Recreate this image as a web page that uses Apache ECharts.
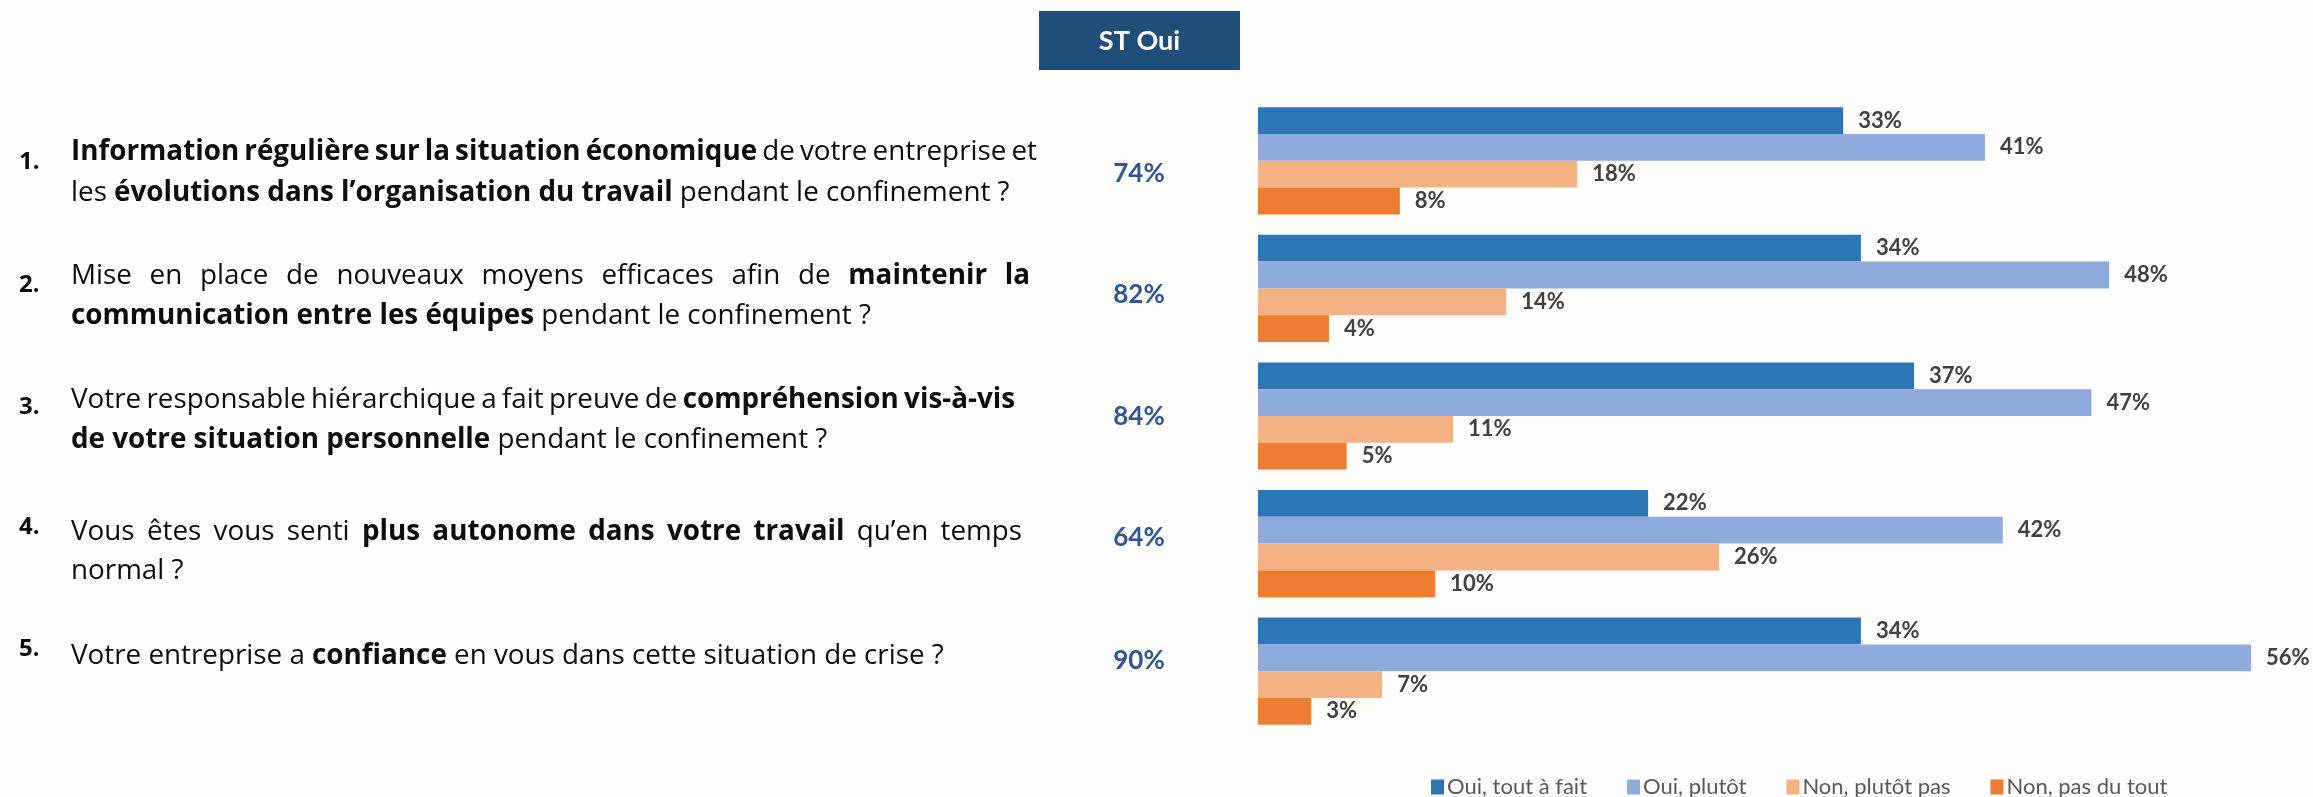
<!DOCTYPE html>
<html>
<head>
<meta charset="utf-8">
<script src="https://cdn.jsdelivr.net/npm/echarts@6/dist/echarts.min.js"></script>
<style>
html,body{margin:0;padding:0;background:#fefefd;}
#chart{width:2313px;height:797px;}
</style>
</head>
<body>
<div id="chart"></div>
<script>
// ---- DATA ----
const categories = ['1.', '2.', '3.', '4.', '5.'];
const seriesNames = ['Oui, tout à fait', 'Oui, plutôt', 'Non, plutôt pas', 'Non, pas du tout'];
const ouiToutAFait = [33, 34, 37, 22, 34];
const ouiPlutot = [41, 48, 47, 42, 56];
const nonPlutotPas = [18, 14, 11, 26, 7];
const nonPasDuTout = [8, 4, 5, 10, 3];
const stOui = ['74%', '82%', '84%', '64%', '90%'];
const headerLabel = 'ST Oui';
// question lines: [text, bold]
const question1 = [
  [['Information régulière sur la situation économique', 1], [' de votre entreprise et', 0]],
  [['les ', 0], ['évolutions dans l’organisation du travail', 1], [' pendant le confinement ?', 0]]
];
const question2 = [
  [['Mise en place de nouveaux moyens efficaces afin de ', 0], ['maintenir la', 1]],
  [['communication entre les équipes', 1], [' pendant le confinement ?', 0]]
];
const question3 = [
  [['Votre responsable hiérarchique a fait preuve de ', 0], ['compréhension vis-à-vis', 1]],
  [['de votre situation personnelle', 1], [' pendant le confinement ?', 0]]
];
const question4 = [
  [['Vous êtes vous senti ', 0], ['plus autonome dans votre travail', 1], [' qu’en temps', 0]],
  [['normal ?', 0]]
];
const question5 = [
  [['Votre entreprise a ', 0], ['confiance', 1], [' en vous dans cette situation de crise ?', 0]]
];
const questions = [question1, question2, question3, question4, question5];

// ---- LAYOUT ----
const QFONT = 'Open Sans';
const FONT = 'Lato';
const textColor = '#0d0d0d';
const textLeft = 71;
const numLeft = 19;
const lineY = [[152, 193], [276, 316], [400, 440], [532, 571], [656]];
const numY = [162, 285, 407, 527, 649];
const justifyTo = [[1037, null], [1030, null], [1015, null], [1022, null], [null]];
const pctY = [174, 295, 417, 538, 661];
const fitWidth = 872; // natural width of the last question line

const cv = document.createElement('canvas').getContext('2d');
function fontStr(bold, size, fam) { return (bold ? 'bold ' : '') + size + 'px "' + (fam || FONT) + '"'; }
function measureAt(t, bold, size) { cv.font = fontStr(bold, size, QFONT); return cv.measureText(t).width; }
function tokens(line) {
  const words = [];
  line.forEach(([txt, b]) => txt.split(' ').forEach(w => { if (w.length) words.push({ w, b }); }));
  return words;
}
function naturalWidth(line, size) {
  const ws = tokens(line);
  return ws.reduce((a, o) => a + measureAt(o.w, o.b, size), 0) + (ws.length - 1) * measureAt(' ', false, size);
}
const qFontSize = Math.round(100 * fitWidth / naturalWidth(question5[0], 100) * 10) / 10;

const graphics = [];
graphics.push({
  type: 'rect', shape: { x: 1039, y: 11, width: 201, height: 59 },
  style: { fill: '#1F4E79' }, z: 10
});
graphics.push({
  type: 'text', x: 1139.5, y: 41, z: 11,
  style: { text: headerLabel, font: fontStr(true, 27), fill: '#ffffff', align: 'center', verticalAlign: 'middle' }
});

questions.forEach((q, qi) => {
  graphics.push({
    type: 'text', x: numLeft, y: numY[qi], z: 11,
    style: { text: categories[qi], font: fontStr(true, Math.round(qFontSize * 0.88), QFONT), fill: textColor, align: 'left', verticalAlign: 'middle' }
  });
  q.forEach((line, li) => {
    const words = tokens(line);
    const widths = words.map(o => measureAt(o.w, o.b, qFontSize));
    const sum = widths.reduce((a, c) => a + c, 0);
    const spaceW = measureAt(' ', false, qFontSize);
    const target = justifyTo[qi][li];
    let gap = spaceW;
    if (target && words.length > 1) gap = Math.max(spaceW * 0.5, (target - textLeft - sum) / (words.length - 1));
    let x = textLeft;
    words.forEach((o, i) => {
      graphics.push({
        type: 'text', x: x, y: lineY[qi][li], z: 11,
        style: { text: o.w, font: fontStr(o.b, qFontSize, QFONT), fill: textColor, align: 'left', verticalAlign: 'middle' }
      });
      x += widths[i] + gap;
    });
  });
  graphics.push({
    type: 'text', x: 1139, y: pctY[qi], z: 11,
    style: { text: stOui[qi], font: fontStr(true, 26), fill: '#2F5597', align: 'center', verticalAlign: 'middle' }
  });
});

const colors = ['#2E75B6', '#8FAADC', '#F4B183', '#ED7D31'];
const values = [ouiToutAFait, ouiPlutot, nonPlutotPas, nonPasDuTout];

const chart = echarts.init(document.getElementById('chart'));
chart.setOption({
  backgroundColor: '#fefefd',
  animation: false,
  color: colors,
  grid: { left: 1258, top: 97, width: 993, height: 638, containLabel: false },
  xAxis: { type: 'value', min: 0, max: 56, show: false },
  yAxis: { type: 'category', data: categories, inverse: true, show: false },
  legend: {
    data: seriesNames,
    left: 1426, top: 771,
    itemWidth: 13, itemHeight: 15, itemGap: 40,
    icon: 'rect',
    textStyle: { fontFamily: FONT, fontSize: 22, color: '#595959', padding: [0, 0, 0, -2] }
  },
  graphic: graphics,
  series: seriesNames.map((name, i) => ({
    name: name,
    type: 'bar',
    data: values[i],
    barGap: '0%',
    barCategoryGap: '16%',
    itemStyle: { color: colors[i] },
    label: {
      show: true, position: 'right', distance: 15,
      formatter: '{c}%',
      fontFamily: FONT, fontWeight: 'bold', fontSize: 22, color: '#404040'
    }
  }))
});
</script>
</body>
</html>
